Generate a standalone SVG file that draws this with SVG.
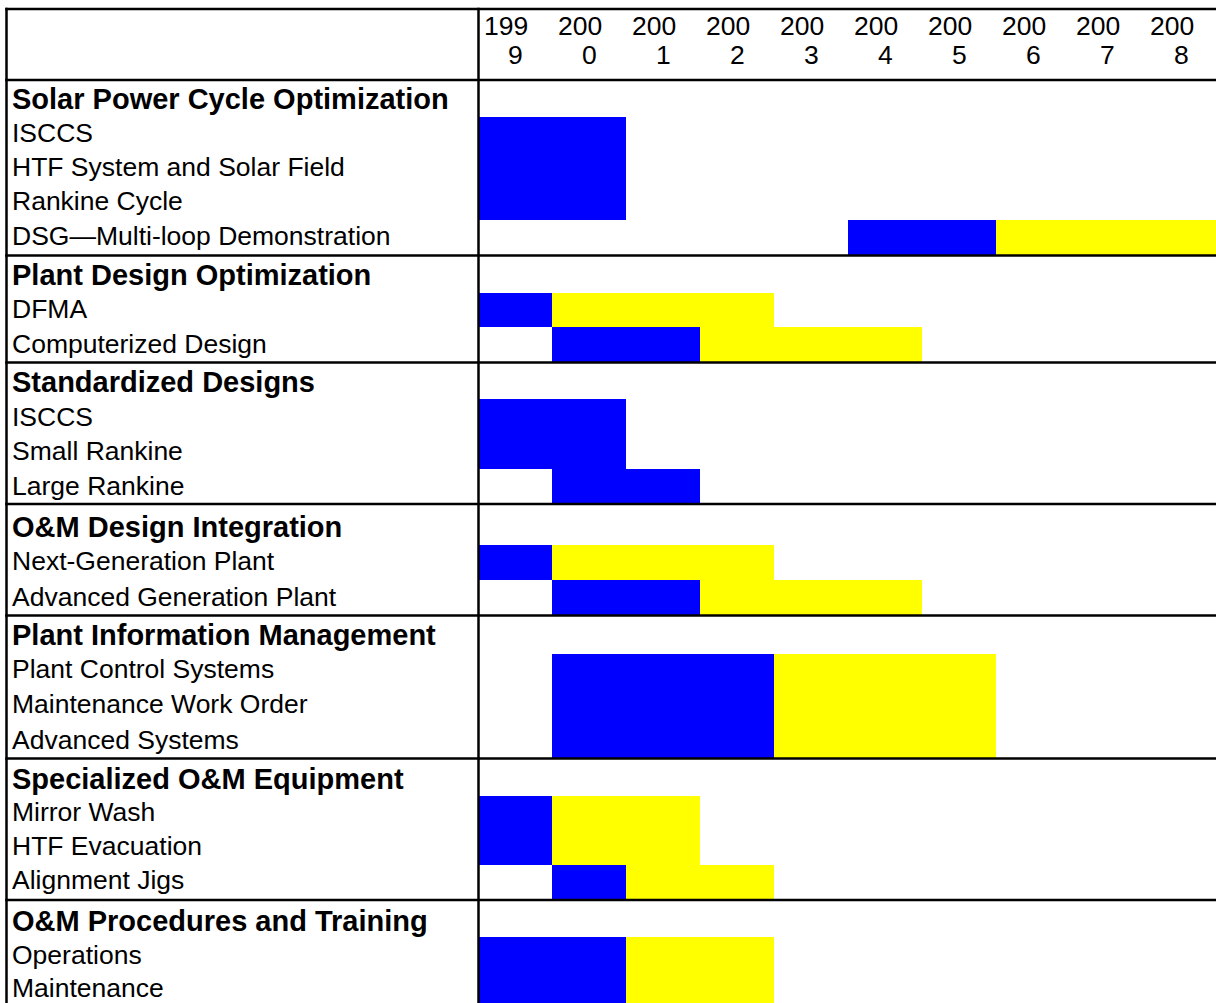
<svg xmlns="http://www.w3.org/2000/svg" width="1216" height="1003" viewBox="0 0 1216 1003">
<style>
text{font-family:"Liberation Sans",Arial,sans-serif;fill:#000}
.h{font-size:29px;font-weight:bold}
.i{font-size:26.5px}
.y{font-size:26.5px}
.b{fill:#0000FF;shape-rendering:crispEdges}
.w{fill:#FFFF00;shape-rendering:crispEdges}
.ln{stroke:#000;stroke-width:2.5;fill:none}
</style>
<rect x="0" y="0" width="1216" height="1003" fill="#fff"/>
<g id="header">
<text class="y" x="484" y="35">199</text><text class="y" x="508" y="64">9</text>
<text class="y" x="558" y="35">200</text><text class="y" x="582" y="64">0</text>
<text class="y" x="632" y="35">200</text><text class="y" x="656" y="64">1</text>
<text class="y" x="706" y="35">200</text><text class="y" x="730" y="64">2</text>
<text class="y" x="780" y="35">200</text><text class="y" x="804" y="64">3</text>
<text class="y" x="854" y="35">200</text><text class="y" x="878" y="64">4</text>
<text class="y" x="928" y="35">200</text><text class="y" x="952" y="64">5</text>
<text class="y" x="1002" y="35">200</text><text class="y" x="1026" y="64">6</text>
<text class="y" x="1076" y="35">200</text><text class="y" x="1100" y="64">7</text>
<text class="y" x="1150" y="35">200</text><text class="y" x="1174" y="64">8</text>
</g>
<g id="s1">
<text class="h" x="12" y="109">Solar Power Cycle Optimization</text>
<g id="s1-bars"><rect class="b" x="478" y="117" width="148" height="103"/></g>
<g id="s1-isccs"><text class="i" x="12" y="141.5">ISCCS</text></g>
<g id="s1-htf"><text class="i" x="12" y="175.8">HTF System and Solar Field</text></g>
<g id="s1-rankine"><text class="i" x="12" y="210">Rankine Cycle</text></g>
<g id="s1-dsg"><rect class="b" x="848" y="220" width="148" height="36"/><rect class="w" x="996" y="220" width="220" height="36"/><text class="i" x="12" y="245">DSG—Multi-loop Demonstration</text></g>
</g>
<g id="s2">
<text class="h" x="12" y="285">Plant Design Optimization</text>
<g id="s2-dfma"><rect class="b" x="478" y="293" width="74" height="34"/><rect class="w" x="552" y="293" width="222" height="34"/><text class="i" x="12" y="318">DFMA</text></g>
<g id="s2-comp"><rect class="b" x="552" y="327" width="148" height="36"/><rect class="w" x="700" y="327" width="222" height="36"/><text class="i" x="12" y="353">Computerized Design</text></g>
</g>
<g id="s3">
<text class="h" x="12" y="392">Standardized Designs</text>
<g id="s3-bars"><rect class="b" x="478" y="399" width="148" height="70"/><rect class="b" x="552" y="469" width="148" height="35"/></g>
<g id="s3-isccs"><text class="i" x="12" y="426">ISCCS</text></g>
<g id="s3-small"><text class="i" x="12" y="460">Small Rankine</text></g>
<g id="s3-large"><text class="i" x="12" y="495">Large Rankine</text></g>
</g>
<g id="s4">
<text class="h" x="12" y="537">O&amp;M Design Integration</text>
<g id="s4-next"><rect class="b" x="478" y="545" width="74" height="35"/><rect class="w" x="552" y="545" width="222" height="35"/><text class="i" x="12" y="570">Next-Generation Plant</text></g>
<g id="s4-adv"><rect class="b" x="552" y="580" width="148" height="36"/><rect class="w" x="700" y="580" width="222" height="36"/><text class="i" x="12" y="606">Advanced Generation Plant</text></g>
</g>
<g id="s5">
<text class="h" x="12" y="645">Plant Information Management</text>
<g id="s5-bars"><rect class="b" x="552" y="654" width="222" height="105"/><rect class="w" x="774" y="654" width="222" height="105"/></g>
<g id="s5-pcs"><text class="i" x="12" y="678">Plant Control Systems</text></g>
<g id="s5-mwo"><text class="i" x="12" y="713">Maintenance Work Order</text></g>
<g id="s5-adv"><text class="i" x="12" y="748.5">Advanced Systems</text></g>
</g>
<g id="s6">
<text class="h" x="12" y="789">Specialized O&amp;M Equipment</text>
<g id="s6-bars"><rect class="b" x="478" y="796" width="74" height="69"/><rect class="w" x="552" y="796" width="148" height="69"/><rect class="b" x="552" y="865" width="74" height="35"/><rect class="w" x="626" y="865" width="148" height="35"/></g>
<g id="s6-mirror"><text class="i" x="12" y="820.5">Mirror Wash</text></g>
<g id="s6-htf"><text class="i" x="12" y="855">HTF Evacuation</text></g>
<g id="s6-align"><text class="i" x="12" y="889">Alignment Jigs</text></g>
</g>
<g id="s7">
<text class="h" x="12" y="931">O&amp;M Procedures and Training</text>
<g id="s7-bars"><rect class="b" x="478" y="937" width="148" height="70"/><rect class="w" x="626" y="937" width="148" height="70"/></g>
<g id="s7-ops"><text class="i" x="12" y="964">Operations</text></g>
<g id="s7-maint"><text class="i" x="12" y="997">Maintenance</text></g>
</g>
<g id="grid" class="ln">
<line x1="5.25" y1="9" x2="1216" y2="9"/>
<line x1="5.25" y1="80" x2="1216" y2="80"/>
<line x1="5.25" y1="255.5" x2="1216" y2="255.5"/>
<line x1="5.25" y1="362.5" x2="1216" y2="362.5"/>
<line x1="5.25" y1="504" x2="1216" y2="504"/>
<line x1="5.25" y1="615.5" x2="1216" y2="615.5"/>
<line x1="5.25" y1="758.5" x2="1216" y2="758.5"/>
<line x1="5.25" y1="900" x2="1216" y2="900"/>
<line x1="6.5" y1="7.75" x2="6.5" y2="1003"/>
<line x1="478.5" y1="7.75" x2="478.5" y2="1003"/>
</g>
</svg>
